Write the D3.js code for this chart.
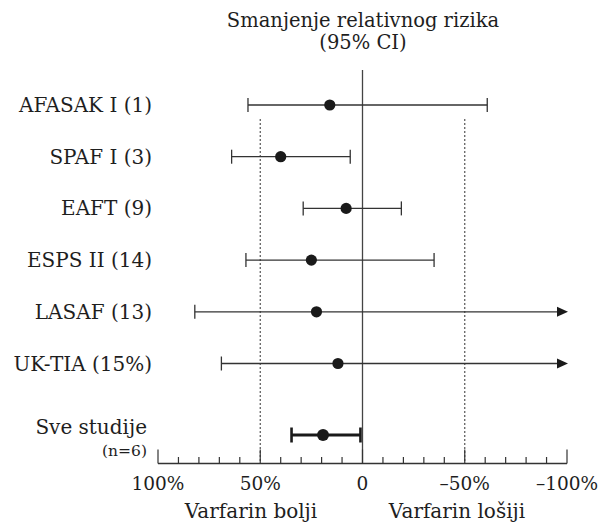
<!DOCTYPE html>
<html>
<head>
<meta charset="utf-8">
<script src="https://cdn.jsdelivr.net/npm/d3@7"></script>
<style>
  body { margin: 0; background: #fff; }
  text { font-family: "DejaVu Serif", serif; fill: #1e1e1e; }
</style>
</head>
<body>
<div class="chart"></div>
<script>
// Data (relative risk reduction, %, positive = warfarin better)
const studies  = ["AFASAK I (1)", "SPAF I (3)", "EAFT (9)", "ESPS II (14)", "LASAF (13)", "UK-TIA (15%)"];
const estimate = [16, 40, 8, 25, 22.5, 12];
const lower    = [56, 64, 29, 57, 82, 69];
const upper    = [-61, 6, -19, -35, -100, -100];
const open     = [false, false, false, false, true, true]; // CI runs off the scale

const pooledLabel = "Sve studije";
const pooledN     = "(n=6)";
const pooled      = { est: 19.3, lo: 34.7, hi: 1 };

const majorTicks = [100, 50, 0, -50, -100];
const tickLabels = ["100%", "50%", "0", "\u201350%", "\u2013100%"];
const minorTicks = d3.range(100, -101, -10);

const width = 607, height = 525;

const svg = d3.select(".chart").append("svg")
    .attr("width", width)
    .attr("height", height);

// Scales
const x = d3.scaleLinear().domain([100, -100]).range([158, 567]);
const y = d3.scalePoint().domain(studies).range([105, 363.5]);
const yPooled = 435;
const axisY = 463.5;

// title
svg.append("text")
    .attr("x", 363).attr("y", 27)
    .attr("text-anchor", "middle")
    .style("font-size", "19.5px")
    .text("Smanjenje relativnog rizika");
svg.append("text")
    .attr("x", 363).attr("y", 49)
    .attr("text-anchor", "middle")
    .style("font-size", "19.5px")
    .text("(95% CI)");

// reference lines
svg.append("line")
    .attr("x1", x(0)).attr("x2", x(0))
    .attr("y1", 70).attr("y2", axisY)
    .attr("stroke", "#444").attr("stroke-width", 1.3);

[50, -50].forEach(v => {
    svg.append("line")
        .attr("x1", x(v)).attr("x2", x(v))
        .attr("y1", 119).attr("y2", axisY)
        .attr("stroke", "#555").attr("stroke-width", 1.2)
        .attr("stroke-dasharray", "2,2");
});

// axis
const axis = svg.append("g").attr("transform", "translate(0," + axisY + ")");
axis.append("line")
    .attr("x1", x(100)).attr("x2", x(-100))
    .attr("stroke", "#333").attr("stroke-width", 1.3);
axis.selectAll(".minor")
    .data(minorTicks)
    .enter().append("line")
    .attr("x1", d => x(d)).attr("x2", d => x(d))
    .attr("y1", 0)
    .attr("y2", d => majorTicks.includes(d) ? -14 : -6.5)
    .attr("stroke", "#333").attr("stroke-width", 1.2);
axis.selectAll(".tl")
    .data(majorTicks)
    .enter().append("text")
    .attr("x", d => x(d))
    .attr("y", 26)
    .attr("text-anchor", "middle")
    .style("font-size", "18.5px")
    .text((d, i) => tickLabels[i]);

svg.append("text")
    .attr("x", 251).attr("y", 518)
    .attr("text-anchor", "middle")
    .style("font-size", "20px")
    .text("Varfarin bolji");
svg.append("text")
    .attr("x", 457).attr("y", 518)
    .attr("text-anchor", "middle")
    .style("font-size", "20px")
    .text("Varfarin lošiji");

// study rows
const rows = svg.selectAll(".row")
    .data(studies)
    .enter().append("g")
    .attr("class", "row")
    .attr("transform", d => "translate(0," + y(d) + ")");

rows.append("text")
    .attr("x", 152).attr("y", 7)
    .attr("text-anchor", "end")
    .style("font-size", "20px")
    .text(d => d);

rows.append("line")
    .attr("x1", (d, i) => x(lower[i]))
    .attr("x2", (d, i) => open[i] ? x(upper[i]) - 8 : x(upper[i]))
    .attr("stroke", "#333").attr("stroke-width", 1.3);

rows.append("line")
    .attr("x1", (d, i) => x(lower[i])).attr("x2", (d, i) => x(lower[i]))
    .attr("y1", -7).attr("y2", 7)
    .attr("stroke", "#333").attr("stroke-width", 1.3);

rows.filter((d, i) => !open[i]).append("line")
    .attr("x1", d => x(upper[studies.indexOf(d)]))
    .attr("x2", d => x(upper[studies.indexOf(d)]))
    .attr("y1", -7).attr("y2", 7)
    .attr("stroke", "#333").attr("stroke-width", 1.3);

rows.filter((d, i) => open[i]).append("path")
    .attr("d", d => {
        const t = x(upper[studies.indexOf(d)]) + 1;
        return "M" + t + ",0L" + (t - 11) + ",-5L" + (t - 11) + ",5Z";
    })
    .attr("fill", "#1a1a1a");

rows.append("circle")
    .attr("cx", (d, i) => x(estimate[i]))
    .attr("r", 5.6)
    .attr("fill", "#1a1a1a");

// pooled estimate
const pg = svg.append("g").attr("transform", "translate(0," + yPooled + ")");
pg.append("text")
    .attr("x", 147).attr("y", -1)
    .attr("text-anchor", "end")
    .style("font-size", "20px")
    .text(pooledLabel);
pg.append("text")
    .attr("x", 147).attr("y", 20.5)
    .attr("text-anchor", "end")
    .style("font-size", "15.5px")
    .text(pooledN);
pg.append("line")
    .attr("x1", x(pooled.lo)).attr("x2", x(pooled.hi))
    .attr("stroke", "#1a1a1a").attr("stroke-width", 3);
[pooled.lo, pooled.hi].forEach(v => {
    pg.append("line")
        .attr("x1", x(v)).attr("x2", x(v))
        .attr("y1", -7.5).attr("y2", 7.5)
        .attr("stroke", "#1a1a1a").attr("stroke-width", 2.6);
});
pg.append("circle")
    .attr("cx", x(pooled.est))
    .attr("r", 6)
    .attr("fill", "#1a1a1a");
</script>
</body>
</html>
